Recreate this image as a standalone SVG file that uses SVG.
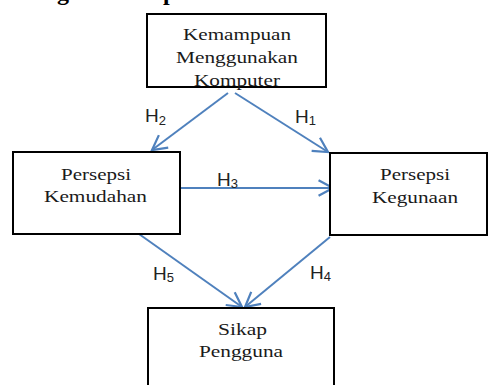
<svg xmlns="http://www.w3.org/2000/svg" width="489" height="385" viewBox="0 0 489 385">
<style>
.box{fill:#fff;stroke:#000;stroke-width:2}
.t{font-family:"Liberation Serif","Times New Roman",serif;font-size:17px;fill:#1a1a1a;text-anchor:middle}
.h{font-family:"Liberation Sans",Arial,sans-serif;font-size:19px;fill:#222}
.s{font-size:13px}
.c{stroke:#4F81BD;stroke-width:2;fill:none;marker-end:url(#ah)}
.hd{font-family:"Liberation Serif","Times New Roman",serif;font-weight:bold;font-size:24px;fill:#000}
</style>
<defs>
<marker id="ah" markerUnits="userSpaceOnUse" markerWidth="20" markerHeight="20" refX="0" refY="0" viewBox="-14 -9 16 18" orient="auto">
<path d="M-13,-7 L0,0 L-13,7" fill="none" stroke="#4F81BD" stroke-width="2"/>
</marker>
</defs>
<g id="heading">
<text class="hd" x="57" y="0">g</text>
<text class="hd" x="163" y="0">p</text>
</g>
<g id="connectors">
<line class="c" x1="228" y1="93" x2="152" y2="150"/>
<line class="c" x1="235" y1="93" x2="328" y2="152"/>
<line class="c" x1="181" y1="188" x2="333" y2="188"/>
<line class="c" x1="139" y1="234" x2="242" y2="307"/>
<line class="c" x1="330" y1="237" x2="245" y2="307"/>
</g>
<g id="labels">
<text class="h" x="145" y="122">H<tspan class="s" dy="3">2</tspan></text>
<text class="h" x="295" y="123">H<tspan class="s" dy="2">1</tspan></text>
<text class="h" x="217" y="186">H<tspan class="s" dy="2">3</tspan></text>
<text class="h" x="153" y="280">H<tspan class="s" dy="2">5</tspan></text>
<text class="h" x="310" y="279">H<tspan class="s" dy="2">4</tspan></text>
</g>
<g id="node-kemampuan">
<rect class="box" x="147" y="14" width="179" height="73"/>
<text class="t" x="237" y="40" textLength="108" lengthAdjust="spacingAndGlyphs">Kemampuan</text>
<text class="t" x="237" y="63" textLength="122" lengthAdjust="spacingAndGlyphs">Menggunakan</text>
<text class="t" x="237" y="86" textLength="86" lengthAdjust="spacingAndGlyphs">Komputer</text>
</g>
<g id="node-kemudahan">
<rect class="box" x="13" y="152" width="167" height="82"/>
<text class="t" x="96" y="180" textLength="70" lengthAdjust="spacingAndGlyphs">Persepsi</text>
<text class="t" x="95.5" y="202" textLength="103" lengthAdjust="spacingAndGlyphs">Kemudahan</text>
</g>
<g id="node-kegunaan">
<rect class="box" x="330" y="153" width="157" height="82"/>
<text class="t" x="415" y="180" textLength="70" lengthAdjust="spacingAndGlyphs">Persepsi</text>
<text class="t" x="415" y="203" textLength="86" lengthAdjust="spacingAndGlyphs">Kegunaan</text>
</g>
<g id="node-sikap">
<rect class="box" x="148" y="308" width="186" height="85"/>
<text class="t" x="242.5" y="335" textLength="49" lengthAdjust="spacingAndGlyphs">Sikap</text>
<text class="t" x="241" y="357" textLength="84" lengthAdjust="spacingAndGlyphs">Pengguna</text>
</g>
</svg>
